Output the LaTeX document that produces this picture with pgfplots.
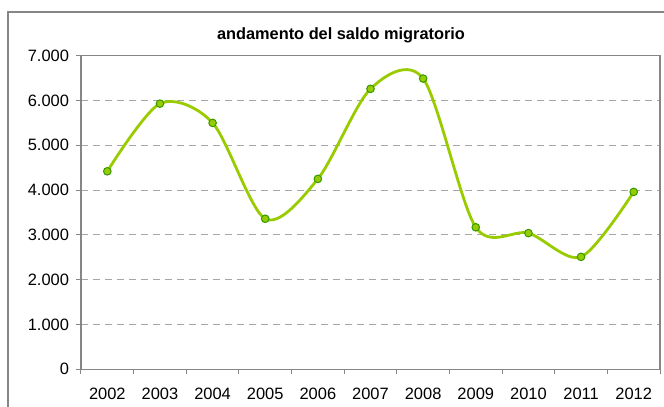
\documentclass[border=0pt]{standalone}
\usepackage{pgfplots}
\pgfplotsset{compat=1.18}
\usepackage{fontspec}
\setmainfont{Liberation Sans}

\definecolor{linegreen}{HTML}{99CC00}
\definecolor{markgreen}{HTML}{339900}
\definecolor{axgray}{HTML}{868686}
\definecolor{gridgray}{HTML}{A6A6A6}

\begin{document}
\begin{tikzpicture}
\begin{axis}[
    scale only axis,
    width=579bp, height=313.6bp,
    xmin=2001.5, xmax=2012.5,
    ymin=0, ymax=7000,
    xtick={2002,2003,2004,2005,2006,2007,2008,2009,2010,2011,2012},
    xticklabels={2002,2003,2004,2005,2006,2007,2008,2009,2010,2011,2012},
    major x tick style={draw=none},
    minor xtick={2001.5,2002.5,2003.5,2004.5,2005.5,2006.5,2007.5,2008.5,2009.5,2010.5,2011.5,2012.5},
    ytick={0,1000,2000,3000,4000,5000,6000,7000},
    yticklabels={0,1.000,2.000,3.000,4.000,5.000,6.000,7.000},
    xtick pos=bottom, ytick pos=left,
    tick align=outside,
    major tick length=5bp, minor tick length=5bp,
    ymajorgrids,
    grid style={gridgray, dash pattern=on 7bp off 5bp, line width=0.9bp},
    axis line style={axgray, line width=1.2bp},
    tick style={axgray, line width=1bp},
    ticklabel style={font=\fontsize{16.5}{18}\selectfont},
    yticklabel style={xshift=-3.5bp},
    xticklabel style={yshift=-10bp},
]
\addplot[linegreen, line width=2.8bp, smooth,
    mark=*, mark size=3.8bp,
    mark options={fill=linegreen, draw=markgreen, line width=1bp}]
coordinates {
    (2002, 4420)
    (2003, 5930)
    (2004, 5500)
    (2005, 3360)
    (2006, 4250)
    (2007, 6260)
    (2008, 6490)
    (2009, 3170)
    (2010, 3040)
    (2011, 2510)
    (2012, 3960)
};
\end{axis}
\node[anchor=base, font=\bfseries\fontsize{16.4}{18}\selectfont]
    at ([xshift=-29.5bp,yshift=15.7bp]current axis.north) {andamento del saldo migratorio};
\draw[axgray, line width=1.3bp]
    ([xshift=-73bp,yshift=43.7bp]current axis.north west) rectangle
    ([xshift=30bp,yshift=-60bp]current axis.south east);
\pgfresetboundingbox
\path[use as bounding box]
    ([xshift=-81bp,yshift=-37.7bp]current axis.south west) rectangle
    ([xshift=4bp,yshift=55.7bp]current axis.north east);
\end{tikzpicture}
\end{document}
